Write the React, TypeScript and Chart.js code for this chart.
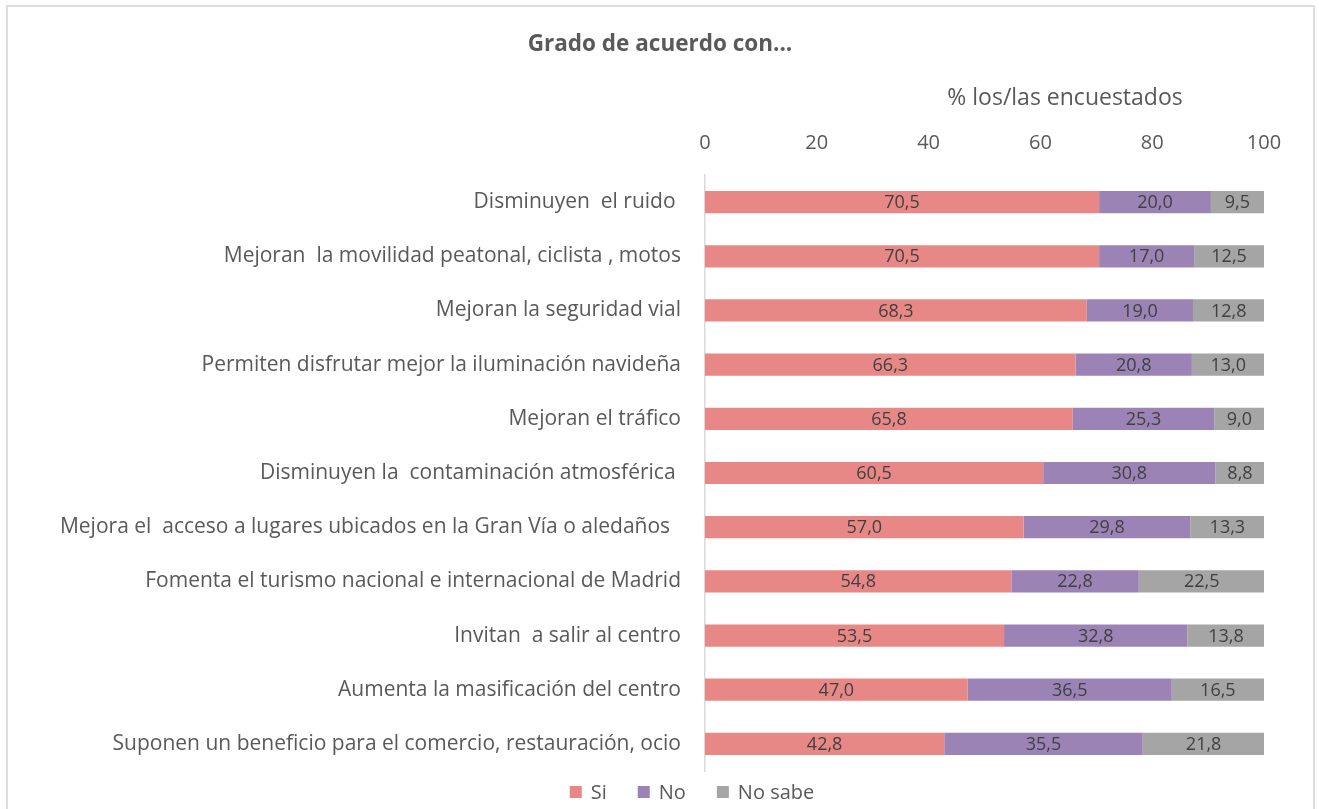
import React, { useEffect, useRef } from "react";
import { Chart, registerables } from "chart.js";

Chart.register(...registerables);

const categories = [
  "Disminuyen  el ruido ",
  "Mejoran  la movilidad peatonal, ciclista , motos",
  "Mejoran la seguridad vial",
  "Permiten disfrutar mejor la iluminación navideña",
  "Mejoran el tráfico",
  "Disminuyen la  contaminación atmosférica ",
  "Mejora el  acceso a lugares ubicados en la Gran Vía o aledaños  ",
  "Fomenta el turismo nacional e internacional de Madrid",
  "Invitan  a salir al centro",
  "Aumenta la masificación del centro",
  "Suponen un beneficio para el comercio, restauración, ocio",
];

const siValues = [70.5, 70.5, 68.3, 66.3, 65.8, 60.5, 57.0, 54.8, 53.5, 47.0, 42.8];
const noValues = [20.0, 17.0, 19.0, 20.8, 25.3, 30.8, 29.8, 22.8, 32.8, 36.5, 35.5];
const noSabeValues = [9.5, 12.5, 12.8, 13.0, 9.0, 8.8, 13.3, 22.5, 13.8, 16.5, 21.8];

const seriesNames = ["Si", "No", "No sabe"];
const seriesColors = ["#E88886", "#9B83B6", "#A5A5A5"];

const chartTitle = "Grado de acuerdo con...";
const axisTitle = "% los/las encuestados";

const FONT = "'Open Sans', Lato, sans-serif";
const TEXT = "#595959";

const overlayPlugin = {
  id: "overlayText",
  afterDatasetsDraw(chart: any) {
    const ctx = chart.ctx;
    ctx.save();
    ctx.font = `18px ${FONT}`;
    ctx.fillStyle = "#404040";
    ctx.textAlign = "center";
    ctx.textBaseline = "middle";
    chart.data.datasets.forEach((ds: any, di: number) => {
      const meta = chart.getDatasetMeta(di);
      meta.data.forEach((el: any, i: number) => {
        const v = ds.data[i];
        const cx = (el.x + el.base) / 2;
        ctx.fillText(v.toFixed(1).replace(".", ","), cx, el.y + 1);
      });
    });
    ctx.restore();
  },
  afterDraw(chart: any) {
    const ctx = chart.ctx;
    ctx.save();
    ctx.textBaseline = "middle";
    ctx.textAlign = "center";
    ctx.fillStyle = TEXT;
    ctx.font = `bold 22.5px ${FONT}`;
    ctx.fillText(chartTitle, 660, 45);
    ctx.font = `23px ${FONT}`;
    ctx.fillText(axisTitle, 1065, 98);

    ctx.font = `20px ${FONT}`;
    const box = 12;
    const gapText = 9;
    const gapItem = 31;
    const widths = chart.data.datasets.map(
      (ds: any) => box + gapText + ctx.measureText(ds.label).width
    );
    const total = widths.reduce((a: number, b: number) => a + b, 0) + gapItem * (widths.length - 1);
    let x = 692 - total / 2;
    const y = 792;
    ctx.textAlign = "left";
    chart.data.datasets.forEach((ds: any, i: number) => {
      ctx.fillStyle = ds.backgroundColor;
      ctx.fillRect(x, y - box / 2, box, box);
      ctx.fillStyle = TEXT;
      ctx.fillText(ds.label, x + box + gapText, y + 1);
      x += widths[i] + gapItem;
    });
    ctx.restore();
  },
};

export default function App() {
  const ref = useRef<HTMLCanvasElement | null>(null);

  useEffect(() => {
    if (!ref.current) return;
    const values = [siValues, noValues, noSabeValues];
    const chart = new Chart(ref.current, {
      type: "bar",
      data: {
        labels: categories,
        datasets: seriesNames.map((name, i) => ({
          label: name,
          data: values[i],
          backgroundColor: seriesColors[i],
          borderWidth: 0,
          barPercentage: 0.41,
          categoryPercentage: 1,
        })),
      },
      options: {
        indexAxis: "y",
        responsive: false,
        animation: false,
        devicePixelRatio: 1,
        layout: { padding: { left: 0, right: 55, top: 0, bottom: 38 } },
        plugins: {
          legend: { display: false },
          title: { display: false },
          tooltip: { enabled: false },
        },
        scales: {
          x: {
            position: "top",
            stacked: true,
            min: 0,
            max: 100,
            ticks: {
              stepSize: 20,
              padding: 20,
              color: TEXT,
              font: { family: FONT, size: 20 },
            },
            grid: { display: false, drawTicks: false },
            border: { display: false },
            afterFit: (scale: any) => {
              scale.height = 175;
            },
          },
          y: {
            stacked: true,
            ticks: {
              padding: 24,
              color: TEXT,
              font: { family: FONT, size: 21 },
              autoSkip: false,
            },
            grid: { display: false, drawTicks: false },
            border: { display: true, color: "#D9D9D9", width: 1.5 },
            afterFit: (scale: any) => {
              scale.width = 705;
            },
          },
        },
      },
      plugins: [overlayPlugin],
    });
    return () => chart.destroy();
  }, []);

  return (
    <div
      style={{
        position: "fixed",
        left: 0,
        top: 0,
        width: 1319,
        height: 809,
        overflow: "hidden",
        background: "#fff",
      }}
    >
      <canvas
        ref={ref}
        width={1319}
        height={809}
        style={{ position: "absolute", left: 0, top: 0, width: 1319, height: 809 }}
      />
      <div
        style={{
          position: "absolute",
          left: 6,
          top: 5,
          width: 1309,
          height: 900,
          boxSizing: "border-box",
          border: "2px solid #DCDCDC",
          pointerEvents: "none",
        }}
      />
    </div>
  );
}
